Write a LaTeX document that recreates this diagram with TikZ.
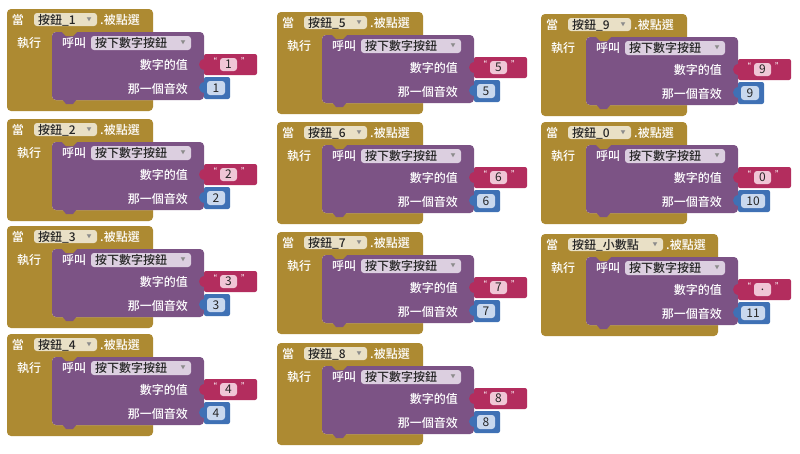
\documentclass[tikz,border=0pt]{standalone}
\usepackage{fontspec}
\setmainfont{Noto Sans CJK TC}[BoldFont={Noto Sans CJK TC Medium}]
\definecolor{aigold}{HTML}{AD8A32}
\definecolor{aigoldlt}{HTML}{E9E0C6}
\definecolor{aipurple}{HTML}{7C5385}
\definecolor{aipurplelt}{HTML}{DCCFE0}
\definecolor{aipink}{HTML}{B32D5E}
\definecolor{aipinklt}{HTML}{F0C6D6}
\definecolor{aiblue}{HTML}{3F71B5}
\definecolor{aibluelt}{HTML}{C9D8EE}
\tikzset{
  lbl/.style={text=white, inner sep=0pt, font=\fontsize{12}{12}\selectfont\bfseries},
  ddtext/.style={text=black!85, inner sep=0pt, font=\fontsize{12}{12}\selectfont\bfseries},
  ddarrow/.style={text=black!45, inner sep=0pt, font=\fontsize{5}{5}\selectfont},
  quotemark/.style={text=white, inner sep=0pt, font=\fontsize{8}{8}\selectfont\bfseries},
  valtext/.style={text=black!85, inner sep=0pt, font=\fontsize{12}{12}\selectfont},
}
% #1 id, #2 x, #3 y, #4 button label, #5 dropdown right, #6 gold width,
% #7 text value, #8 number, #9 blue right edge
\newcommand\aiblock[9]{%
\begin{scope}[shift={(#2,#3)}]
  % event (gold) block
  \fill[aigold, rounded corners=4] (0,0) rectangle (#6,102);
  \fill[white, rounded corners=4] (45,23) rectangle ({#6+8},91);
  % procedure call (purple) block
  \fill[aipurple, rounded corners=4] (45,23) rectangle (197,91);
  \fill[aigold] (55,23) -- (70,23) -- (66,27) -- (59,27) -- cycle;
  \fill[aipurple] (55,90) -- (70,90) -- (66,95) -- (59,95) -- cycle;
  % header
  \node[lbl] (#1when) at (11,11) {當};
  \fill[aigoldlt, rounded corners=3] (27,4) rectangle (#5,17);
  \node[ddtext, anchor=west] (#1btn) at (31,11) {#4};
  \node[ddarrow] (#1btnarr) at ({#5-8},11) {▼};
  \node[lbl, anchor=west] (#1evt) at ({#5+3},11) {.被點選};
  \node[lbl, anchor=west] (#1do) at (10,34) {執行};
  % call row
  \node[lbl, anchor=west] (#1call) at (55,34) {呼叫};
  \fill[aipurplelt, rounded corners=3] (84,27) rectangle (184,41);
  \node[ddtext, anchor=west] (#1proc) at (88,34) {按下數字按鈕};
  \node[ddarrow] (#1procarr) at (176,34) {▼};
  \node[lbl, anchor=east] (#1arga) at (181,56) {數字的值};
  \node[lbl, anchor=east] (#1argb) at (181,80) {那一個音效};
  % text value (pink)
  \fill[aipink, rounded corners=2] (197,45) rectangle (250,66);
  \fill[aipink] (198,49) -- (198,50) .. controls (194,50) and (192,53) .. (192,55.5)
        .. controls (192,58) and (194,61) .. (198,61) -- (198,62) -- cycle;
  \fill[aipinklt, rounded corners=3] (213,49) rectangle (230,62);
  \node[quotemark] (#1qa) at (206,52) {“};
  \node[quotemark] (#1qb) at (238,52) {”};
  \node[valtext] (#1txt) at (221.5,55.5) {#7};
  % number value (blue)
  \fill[aiblue, rounded corners=2] (197,68) rectangle (#9,90);
  \fill[aiblue] (198,72) -- (198,73) .. controls (194,73) and (192,76) .. (192,78.5)
        .. controls (192,81) and (194,84) .. (198,84) -- (198,85) -- cycle;
  \fill[aibluelt, rounded corners=3] (200,72) rectangle ({#9-5},86);
  \node[valtext] (#1num) at ({(200+#9-5)/2},79) {#8};
\end{scope}}

\begin{document}
\begin{tikzpicture}[x=1pt, y=-1pt]
  \useasboundingbox[fill=white] (0,0) rectangle (800,453);
  \aiblock{bA}{7}{9}{按鈕\_1}{90}{146}{1}{1}{223}
  \aiblock{bB}{7}{119}{按鈕\_2}{90}{146}{2}{2}{223}
  \aiblock{bC}{7}{226}{按鈕\_3}{90}{146}{3}{3}{223}
  \aiblock{bD}{7}{334}{按鈕\_4}{90}{146}{4}{4}{223}
  \aiblock{bE}{277}{12}{按鈕\_5}{90}{146}{5}{5}{223}
  \aiblock{bF}{277}{122}{按鈕\_6}{90}{146}{6}{6}{223}
  \aiblock{bG}{277}{232}{按鈕\_7}{90}{146}{7}{7}{223}
  \aiblock{bH}{277}{343}{按鈕\_8}{90}{146}{8}{8}{223}
  \aiblock{bI}{541}{14}{按鈕\_9}{90}{146}{9}{9}{223}
  \aiblock{bJ}{541}{122}{按鈕\_0}{90}{146}{0}{10}{229}
  \aiblock{bK}{541}{234}{按鈕\_小數點}{122}{177}{.}{11}{229}
\end{tikzpicture}
\end{document}
